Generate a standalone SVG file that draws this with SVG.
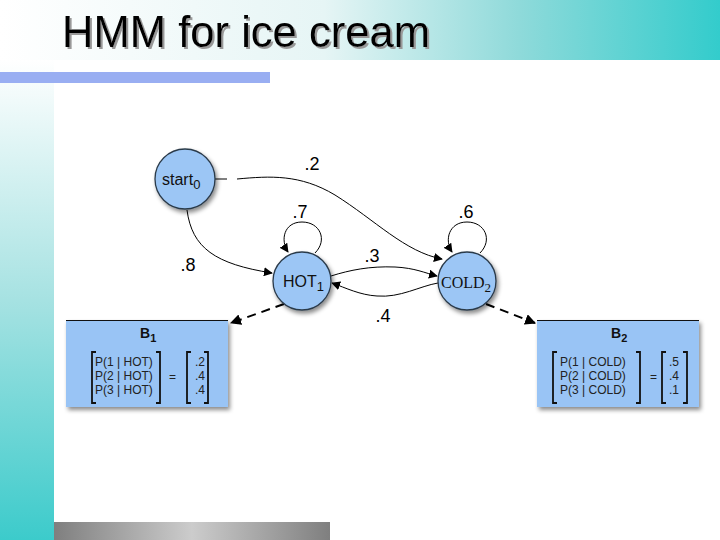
<svg xmlns="http://www.w3.org/2000/svg" width="720" height="540" viewBox="0 0 720 540">
<defs>
<linearGradient id="hdr" x1="0" y1="0" x2="1" y2="0">
<stop offset="0" stop-color="#ffffff"/>
<stop offset="0.45" stop-color="#e6f5f5"/>
<stop offset="0.72" stop-color="#8fdada"/>
<stop offset="1" stop-color="#33cccc"/>
</linearGradient>
<linearGradient id="side" x1="0" y1="0" x2="0" y2="1">
<stop offset="0" stop-color="#ffffff"/>
<stop offset="0.5" stop-color="#a6e2e2"/>
<stop offset="1" stop-color="#3ccbcb"/>
</linearGradient>
<linearGradient id="gray" x1="0" y1="0" x2="1" y2="0">
<stop offset="0" stop-color="#7f7f7f"/>
<stop offset="0.5" stop-color="#cccccc"/>
<stop offset="1" stop-color="#7f7f7f"/>
</linearGradient>
<filter id="sh" x="-20%" y="-20%" width="150%" height="150%">
<feDropShadow dx="2" dy="3" stdDeviation="2" flood-color="#000" flood-opacity="0.45"/>
</filter>
<filter id="tsh" x="-5%" y="-20%" width="110%" height="150%">
<feDropShadow dx="2" dy="2" stdDeviation="0.3" flood-color="#999" flood-opacity="1"/>
</filter>
<marker id="ah" viewBox="0 0 10 10" refX="9" refY="5" markerWidth="9" markerHeight="9" markerUnits="userSpaceOnUse" orient="auto">
<path d="M0,0 L10,5 L0,10 z" fill="#000"/>
</marker>
<marker id="ahd" viewBox="0 0 10 10" refX="9" refY="5" markerWidth="11" markerHeight="11" markerUnits="userSpaceOnUse" orient="auto">
<path d="M0,0 L10,5 L0,10 z" fill="#000"/>
</marker>
</defs>
<style>
.node{fill:#9cc6f5;stroke:#2a3a4a;stroke-width:1.3;}
.box{fill:#99c4f5;}
.edge{fill:none;stroke:#000;stroke-width:1;}
.dash{fill:none;stroke:#000;stroke-width:2;stroke-dasharray:9 6;}
.lbl{font-family:"Liberation Sans",Arial,sans-serif;font-size:18px;fill:#000;text-anchor:middle;}
.nt{font-family:"Liberation Sans",Arial,sans-serif;font-size:16px;fill:#111;}
.mt{font-family:"Liberation Sans",Arial,sans-serif;font-size:12px;fill:#222;}
.br{fill:none;stroke:#111;stroke-width:1.8;}
</style>

<!-- background -->
<rect x="0" y="0" width="720" height="540" fill="#ffffff"/>
<rect x="0" y="0" width="720" height="60" fill="url(#hdr)"/>
<rect x="0" y="60" width="54" height="480" fill="url(#side)"/>
<rect x="0" y="72" width="270" height="11" fill="#99aef2"/>
<rect x="54" y="522" width="276" height="18" fill="url(#gray)"/>

<!-- title -->
<text x="62" y="47" font-family="Liberation Sans,Arial,sans-serif" font-size="44" fill="#000" textLength="368" lengthAdjust="spacingAndGlyphs" filter="url(#tsh)">HMM for ice cream</text>

<!-- connectors -->
<g id="connectors">
<path class="edge" d="M215,179 L227,179" stroke="#888"/>
<path class="edge" d="M237,179 C270,176 300,174 335,195 C375,220 405,252 442,259" marker-end="url(#ah)"/>
<path class="edge" d="M187,210 C192,248 215,264 272,273" marker-end="url(#ah)"/>
<path class="edge" d="M315,253 C328,240 320,222 302,222 C284,222 280,240 288,252" marker-end="url(#ah)"/>
<path class="edge" d="M480,253 C493,240 485,222 467,222 C449,222 444,240 452,252" marker-end="url(#ah)"/>
<path class="edge" d="M331,276 C350,270 370,266 395,267 C415,268 425,273 437,276" marker-end="url(#ah)"/>
<path class="edge" d="M438,283 C420,286 400,298 377,296 C360,295 346,288 332,283" marker-end="url(#ah)"/>
<path class="dash" d="M284,304 L231,323" marker-end="url(#ahd)"/>
<path class="dash" d="M486,304 L535,323" marker-end="url(#ahd)"/>
<text class="lbl" x="312" y="170">.2</text>
<text class="lbl" x="300" y="218">.7</text>
<text class="lbl" x="466" y="218">.6</text>
<text class="lbl" x="372" y="262">.3</text>
<text class="lbl" x="188" y="271">.8</text>
<text class="lbl" x="383" y="322">.4</text>
</g>

<!-- nodes -->
<g id="start0">
<circle class="node" cx="185" cy="179" r="30" filter="url(#sh)"/>
<text class="nt" x="162" y="185">start<tspan font-size="13" dy="4">0</tspan></text>
</g>
<g id="hot1">
<circle class="node" cx="302" cy="281" r="29" filter="url(#sh)"/>
<text class="nt" x="283" y="287">HOT<tspan font-size="13" dy="4">1</tspan></text>
</g>
<g id="cold2">
<circle class="node" cx="467" cy="281" r="29" filter="url(#sh)"/>
<text x="441" y="288" font-family="Liberation Serif,'Times New Roman',serif" font-size="16" fill="#111">COLD<tspan font-size="13" dy="4">2</tspan></text>
</g>

<g id="B1">
<rect class="box" x="66" y="320" width="162" height="87" filter="url(#sh)"/>
<line x1="66" y1="320.5" x2="228" y2="320.5" stroke="#111" stroke-width="1.2"/>
<text x="140" y="338" font-family="Liberation Sans,Arial,sans-serif" font-size="14" font-weight="bold" fill="#111">B<tspan font-size="11" dy="4">1</tspan></text>
<path class="br" d="M96,352 L92,352 L92,403 L96,403"/>
<path class="br" d="M156,352 L160,352 L160,403 L156,403"/>
<text class="mt" x="95" y="366">P(1 | HOT)</text>
<text class="mt" x="95" y="380">P(2 | HOT)</text>
<text class="mt" x="95" y="394">P(3 | HOT)</text>
<text class="mt" x="169" y="381">=</text>
<path class="br" d="M191,352 L187,352 L187,403 L191,403"/>
<path class="br" d="M204,352 L208,352 L208,403 L204,403"/>
<text class="mt" x="195" y="366">.2</text>
<text class="mt" x="195" y="380">.4</text>
<text class="mt" x="195" y="394">.4</text>
</g>

<g id="B2">
<rect class="box" x="537" y="320" width="162" height="87" filter="url(#sh)"/>
<line x1="537" y1="320.5" x2="699" y2="320.5" stroke="#111" stroke-width="1.2"/>
<text x="611" y="338" font-family="Liberation Sans,Arial,sans-serif" font-size="14" font-weight="bold" fill="#111">B<tspan font-size="11" dy="4">2</tspan></text>
<path class="br" d="M557,352 L553,352 L553,403 L557,403"/>
<path class="br" d="M636,352 L640,352 L640,403 L636,403"/>
<text class="mt" x="560" y="366">P(1 | COLD)</text>
<text class="mt" x="560" y="380">P(2 | COLD)</text>
<text class="mt" x="560" y="394">P(3 | COLD)</text>
<text class="mt" x="650" y="381">=</text>
<path class="br" d="M666,352 L662,352 L662,403 L666,403"/>
<path class="br" d="M683,352 L687,352 L687,403 L683,403"/>
<text class="mt" x="669" y="366">.5</text>
<text class="mt" x="669" y="380">.4</text>
<text class="mt" x="669" y="394">.1</text>
</g>
</svg>
